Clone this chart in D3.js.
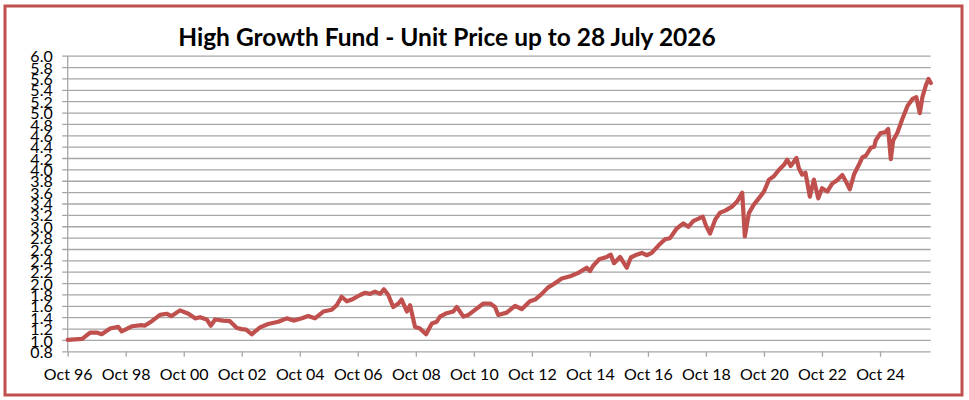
<html>
    <head>
        <title>High Growth Fund</title>
        <script type="text/javascript" src="https://cdn.jsdelivr.net/npm/d3@7"></script>
        <style>
            body{ margin:0; background:white; }
            .trace{
                stroke: #c0504d;
                stroke-width: 4.2;
                stroke-linejoin: round;
                stroke-linecap: round;
                fill: none;
            }
            .gridline{
                stroke: #a6a6a6;
                stroke-width: 1.3;
                fill: none;
            }
            .label{
                font-size:16px;
                font-family:Lato, "Open Sans", sans-serif;
                fill:#000;
            }
            .title{
                font-size:24.5px;
                font-weight:bold;
                font-family:Lato, "Open Sans", sans-serif;
                fill:#000;
            }
        </style>
    </head>
    <body>
        <script type="text/javascript">
            let w = 969
            let h = 400

            // unit price, dates as decimal years
            let years = [1996.75,1997.25,1997.52,1997.75,1997.92,1998.21,1998.49,1998.61,1998.96,1999.30,
                1999.40,1999.65,1999.93,2000.16,2000.33,2000.62,2000.91,2001.14,2001.31,2001.54,
                2001.68,2001.83,2002.11,2002.34,2002.58,2002.75,2002.90,2003.09,2003.38,2003.66,
                2004.01,2004.30,2004.53,2004.82,2005.04,2005.27,2005.56,2005.85,2006.02,2006.19,
                2006.37,2006.54,2006.83,2007.00,2007.17,2007.34,2007.52,2007.65,2007.80,2007.97,
                2008.15,2008.26,2008.44,2008.55,2008.72,2008.89,2009.10,2009.30,2009.47,2009.58,
                2009.81,2010.04,2010.16,2010.39,2010.56,2010.79,2011.08,2011.31,2011.48,2011.59,
                2011.88,2012.17,2012.40,2012.68,2012.86,2013.09,2013.30,2013.49,2013.78,2014.07,
                2014.35,2014.64,2014.75,2014.87,2015.07,2015.33,2015.47,2015.58,2015.79,2016.02,
                2016.16,2016.36,2016.54,2016.71,2016.88,2017.11,2017.34,2017.51,2017.74,2017.97,
                2018.14,2018.31,2018.64,2018.75,2018.89,2019.07,2019.24,2019.43,2019.66,2019.83,
                2020.00,2020.09,2020.23,2020.40,2020.57,2020.75,2020.92,2021.09,2021.26,2021.44,
                2021.55,2021.67,2021.76,2021.87,2021.95,2022.06,2022.18,2022.33,2022.47,2022.62,
                2022.75,2022.93,2023.10,2023.27,2023.45,2023.57,2023.71,2023.86,2024.03,2024.14,
                2024.26,2024.43,2024.55,2024.60,2024.77,2024.92,2025.03,2025.12,2025.20,2025.35,
                2025.52,2025.70,2025.87,2026.00,2026.12,2026.21,2026.33,2026.42,2026.50]
            let prices = [1.00,1.02,1.13,1.13,1.10,1.20,1.23,1.15,1.24,1.26,
                1.25,1.33,1.44,1.46,1.42,1.52,1.46,1.38,1.40,1.36,
                1.25,1.36,1.34,1.33,1.21,1.19,1.18,1.10,1.22,1.28,
                1.32,1.38,1.34,1.38,1.42,1.38,1.50,1.53,1.61,1.76,
                1.68,1.71,1.79,1.83,1.81,1.85,1.81,1.89,1.79,1.58,
                1.64,1.71,1.50,1.61,1.23,1.20,1.10,1.29,1.32,1.41,
                1.47,1.50,1.58,1.41,1.44,1.53,1.64,1.64,1.58,1.44,
                1.48,1.60,1.54,1.68,1.71,1.81,1.92,1.98,2.08,2.12,
                2.18,2.27,2.21,2.31,2.42,2.46,2.50,2.35,2.46,2.27,
                2.45,2.50,2.53,2.49,2.53,2.66,2.77,2.79,2.96,3.05,
                2.99,3.09,3.17,3.01,2.87,3.12,3.24,3.28,3.35,3.44,
                3.59,2.82,3.23,3.38,3.49,3.61,3.82,3.88,3.99,4.08,
                4.17,4.06,4.12,4.20,4.02,3.91,3.94,3.52,3.82,3.49,
                3.67,3.61,3.75,3.81,3.90,3.79,3.65,3.92,4.09,4.21,
                4.24,4.38,4.40,4.51,4.64,4.65,4.71,4.18,4.51,4.65,
                4.89,5.12,5.24,5.27,4.99,5.27,5.48,5.59,5.52]

            let yTicks = [0.8,1.0,1.2,1.4,1.6,1.8,2.0,2.2,2.4,2.6,2.8,3.0,3.2,3.4,
                3.6,3.8,4.0,4.2,4.4,4.6,4.8,5.0,5.2,5.4,5.6,5.8,6.0]
            let xTickYears = [1996,1998,2000,2002,2004,2006,2008,2010,2012,2014,2016,2018,2020,2022,2024]
            let titleText = "High Growth Fund - Unit Price up to 28 July 2026"

            function toDate(y){
                let yr = Math.floor(y)
                let start = new Date(yr,0,1)
                let end = new Date(yr+1,0,1)
                return new Date(+start + (y-yr)*(end-start))
            }
            let dataset = years.map((y,i)=>({date:toDate(y), price:prices[i]}))

            let svg = d3.select("body")
                        .append("svg")
                        .attr("width", w)
                        .attr("height", h)

            // outer border
            svg.append("rect")
                .attr("x",5).attr("y",6)
                .attr("width",957).attr("height",389)
                .attr("fill","white")
                .attr("stroke","#c0504d")
                .attr("stroke-width",3)

            let xScale = d3.scaleTime()
                            .domain([new Date(1996,9,1), new Date(2026,6,1)])
                            .range([67.7,930.7])
            let yScale = d3.scaleLinear()
                            .domain([0.8,6.0])
                            .range([351.3,55.7])

            // gridlines + y ticks
            let yAxis = d3.axisLeft(yScale)
                            .tickValues(yTicks)
                            .tickSize(-(930.7-67.7))
                            .tickSizeOuter(0)
                            .tickFormat(d3.format(".1f"))
            let gy = svg.append("g")
                        .attr("transform","translate(67.7,0)")
                        .call(yAxis)
            gy.select(".domain").remove()
            gy.selectAll(".tick line")
                .attr("class","gridline")
                .attr("x1",-5.5)
            gy.selectAll(".tick text")
                .attr("class","label")
                .attr("x",-15)
                .attr("dy","0.38em")

            // vertical axis line
            svg.append("line")
                .attr("x1",67.7).attr("x2",67.7)
                .attr("y1",yScale(6.0)).attr("y2",yScale(0.8))
                .attr("class","gridline")

            // x axis
            let xAxis = d3.axisBottom(xScale)
                            .tickValues(xTickYears.map(y=>new Date(y,9,1)))
                            .tickSize(5.5)
                            .tickSizeOuter(0)
                            .tickFormat(d3.timeFormat("%b %y"))
            let gx = svg.append("g")
                        .attr("transform","translate(0,"+yScale(0.8)+")")
                        .call(xAxis)
            gx.select(".domain").remove()
            gx.selectAll(".tick line").attr("class","gridline")
            gx.selectAll(".tick text")
                .attr("class","label")
                .attr("y",17)
                .attr("dy","0.71em")

            // data trace
            let line = d3.line()
                        .x(d=>xScale(d.date))
                        .y(d=>yScale(d.price))
            svg.append("path")
                .datum(dataset)
                .attr("d",line)
                .attr("class","trace")

            // title
            svg.append("text")
                .attr("x",447)
                .attr("y",46)
                .attr("text-anchor","middle")
                .attr("class","title")
                .text(titleText)
        </script>
    </body>
</html>
